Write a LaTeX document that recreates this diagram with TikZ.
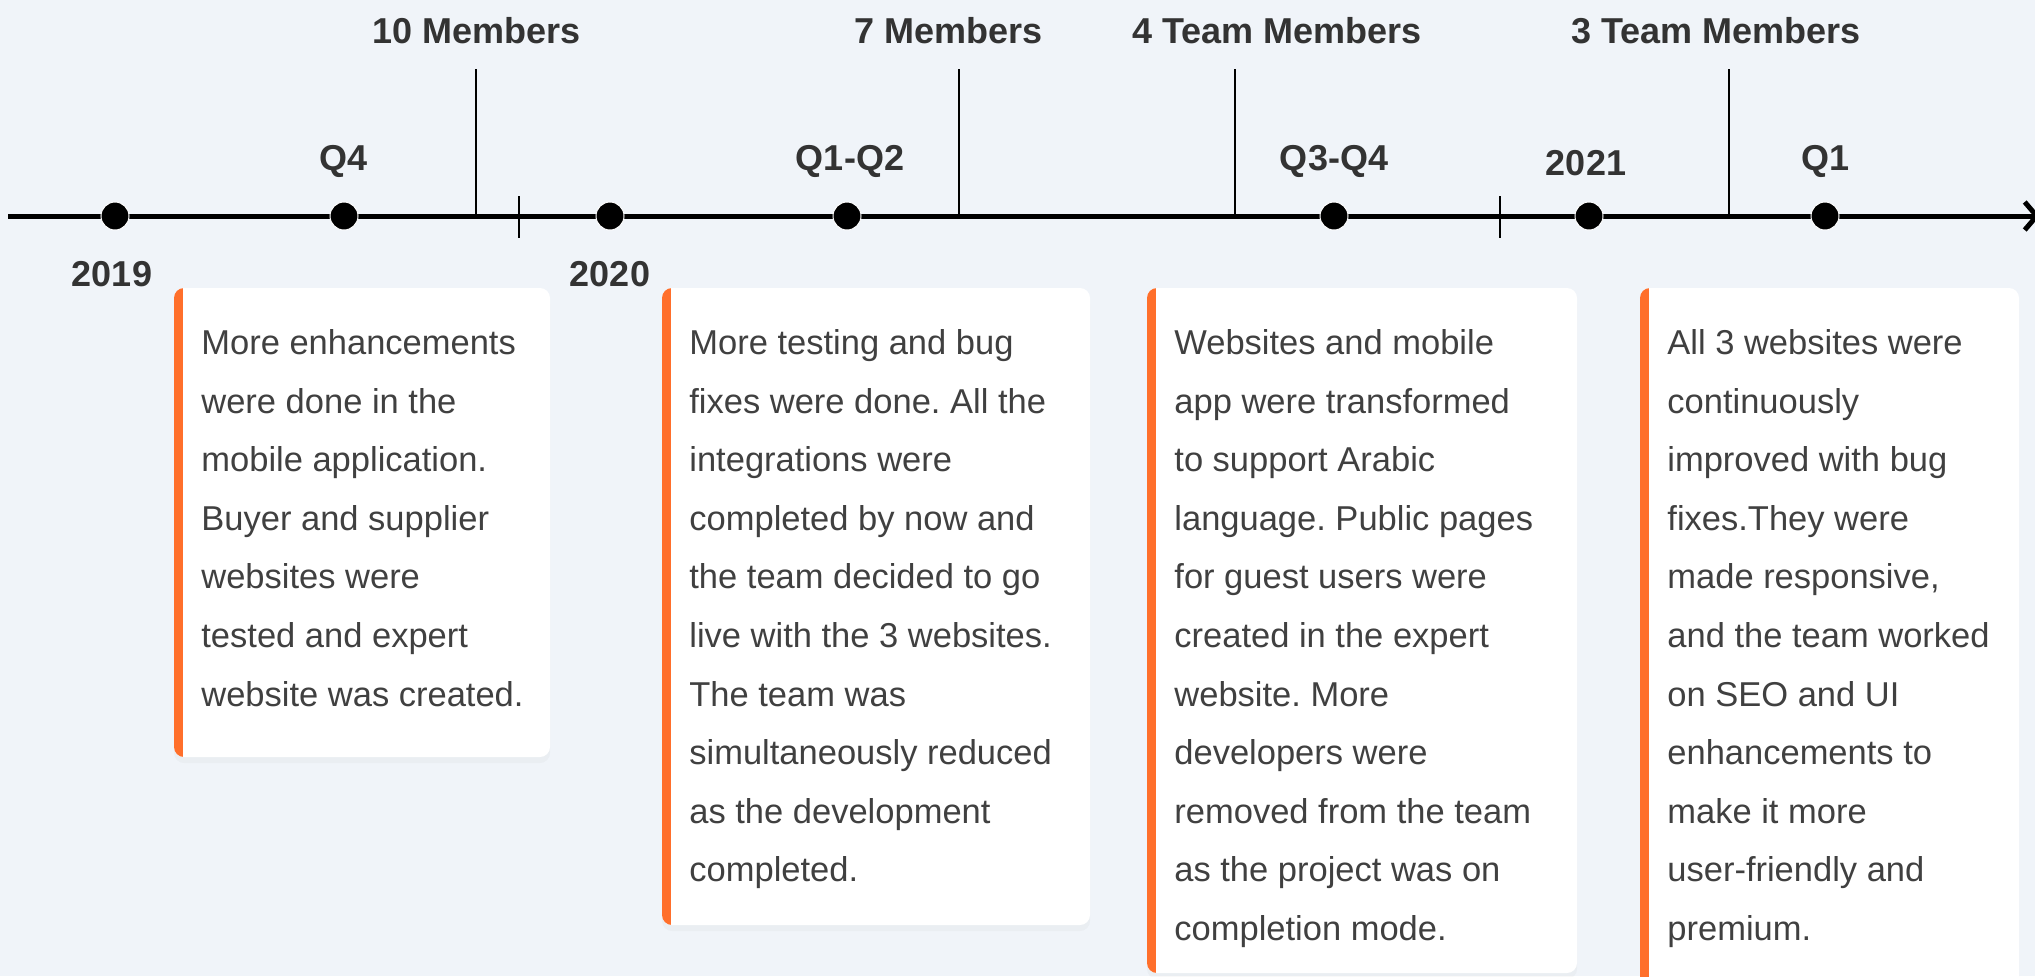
\documentclass[tikz,border=0pt]{standalone}
\usepackage{fontspec}
\setmainfont{Liberation Sans}
\usepackage{tikz}
\usetikzlibrary{arrows.meta,positioning,calc,shadows}
\definecolor{canvas}{HTML}{F0F4F9}
\definecolor{ink}{HTML}{333333}
\definecolor{body}{HTML}{404040}
\definecolor{accent}{HTML}{FF6F2B}
\frenchspacing

\begin{document}
\begin{tikzpicture}[x=0.5pt,y=-0.5pt,
  node distance=14pt,
  dot/.style={circle,fill=black,draw=white,line width=0.5pt,minimum size=14pt,inner sep=0pt},
  lbl/.style={font=\fontsize{18}{20}\selectfont\bfseries,text=ink,inner sep=0pt},
  card/.style={rounded corners=5pt,fill=white,inner sep=0pt,outer sep=0pt,anchor=north west,
               drop shadow={opacity=0.05,shadow xshift=0pt,shadow yshift=-3pt},
               path picture={\fill[accent,sharp corners] (path picture bounding box.north west)
                 rectangle ([xshift=4.5pt]path picture bounding box.south west);}},
  note/.style={font=\fontsize{17.25}{29.3}\selectfont,text=body,align=left,inner sep=0pt,anchor=north west},
  axis/.style={line width=2.5pt,-{Straight Barb[length=6pt,width=14pt]}},
  post/.style={line width=1.3pt}]
  \useasboundingbox (0,0) rectangle (2035,976);
  \fill[canvas] (0,0) rectangle (2035,976);

  % cards
  \node[card,minimum width=188pt,minimum height=234.5pt] (card1) at (174,288) {};
  \node[card,minimum width=214pt,minimum height=318.5pt] (card2) at (662,288) {};
  \node[card,minimum width=215pt,minimum height=342.5pt] (card3) at (1147,288) {};
  \node[card,minimum width=189.5pt,minimum height=360pt] (card4) at (1640,288) {};
  \node[note] (note1) at ([xshift=13.5pt,yshift=-20.5pt]card1.north west)
    {More enhancements\\were done in the\\mobile application.\\Buyer and supplier\\websites were\\tested and expert\\website was created.};
  \node[note] (note2) at ([xshift=13.5pt,yshift=-20.5pt]card2.north west)
    {More testing and bug\\fixes were done. All the\\integrations were\\completed by now and\\the team decided to go\\live with the 3 websites.\\The team was\\simultaneously reduced\\as the development\\completed.};
  \node[note] (note3) at ([xshift=13.5pt,yshift=-20.5pt]card3.north west)
    {Websites and mobile\\app were transformed\\to support Arabic\\language. Public pages\\for guest users were\\created in the expert\\website. More\\developers were\\removed from the team\\as the project was on\\completion mode.};
  \node[note] (note4) at ([xshift=13.5pt,yshift=-20.5pt]card4.north west)
    {All 3 websites were\\continuously\\improved with bug\\fixes.They were\\made responsive,\\and the team worked\\on SEO and UI\\enhancements to\\make it more\\user-friendly and\\premium.};

  % timeline
  \coordinate (t0) at (8,216);
  \coordinate (t1) at (2040,216);
  \draw[axis] (t0) -- (t1);

  % team size posts
  \coordinate (m1) at (476,216);
  \coordinate (m2) at (959,216);
  \coordinate (m3) at (1235,216);
  \coordinate (m4) at (1729,216);
  \draw[post] (m1) -- (m1 |- 0,69);
  \draw[post] (m2) -- (m2 |- 0,69);
  \draw[post] (m3) -- (m3 |- 0,69);
  \draw[post] (m4) -- (m4 |- 0,69);
  \node[lbl,anchor=base] (team1) at (477,43) {10 Members};
  \node[lbl,anchor=base] (team2) at (949,43) {7 Members};
  \node[lbl,anchor=base] (team3) at (1277,43) {4 Team Members};
  \node[lbl,anchor=base] (team4) at (1716,43) {3 Team Members};

  % year breaks
  \coordinate (y1) at (519,216);
  \coordinate (y2) at (1500,216);
  \draw[post] ([yshift=10pt]y1) -- ([yshift=-11pt]y1);
  \draw[post] ([yshift=10pt]y2) -- ([yshift=-11pt]y2);

  % milestones
  \node[dot] (d2019) at (115,216) {};
  \node[dot] (q4) at (344,216) {};
  \node[dot] (d2020) at (610,216) {};
  \node[dot] (q12) at (847,216) {};
  \node[dot] (q34) at (1334,216) {};
  \node[dot] (d2021) at (1589,216) {};
  \node[dot] (q1) at (1825,216) {};
  \node[lbl,below=15pt of d2019,xshift=-1.5pt] {2019};
  \node[lbl,above=12pt of q4] {Q4};
  \node[lbl,below=15pt of d2020] {2020};
  \node[lbl,above=12pt of q12,xshift=1.5pt] {Q1-Q2};
  \node[lbl,above=12pt of q34] {Q3-Q4};
  \node[lbl,above=12.5pt of d2021,xshift=-1.5pt] {2021};
  \node[lbl,above=12pt of q1] {Q1};
\end{tikzpicture}
\end{document}
